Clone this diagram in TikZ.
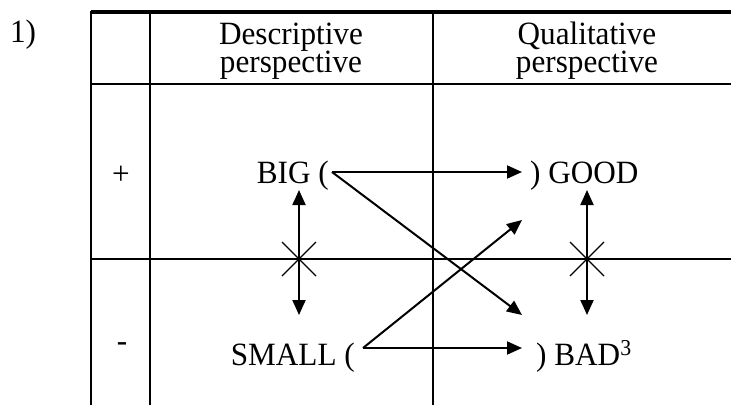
\documentclass[tikz,border=0pt]{standalone}
\usepackage{fontspec}
\setmainfont[FakeStretch=0.96]{Liberation Serif}
\usetikzlibrary{arrows.meta}
\begin{document}
\begin{tikzpicture}[x=1pt,y=-1pt,
  grid/.style={line width=2pt},
  topline/.style={line width=3.5pt},
  lbl/.style={inner sep=0pt,font=\fontsize{32.5}{28}\selectfont},
  hdr/.style={inner sep=0pt,anchor=base,font=\fontsize{32.5}{28}\selectfont},
  arr/.style={line width=2pt,-{Triangle[length=15pt,width=13pt]}},
  darr/.style={line width=2pt,{Triangle[length=15pt,width=13pt]}-{Triangle[length=15pt,width=13pt]}},
  crossln/.style={line width=1.3pt}]
\useasboundingbox (0,0) rectangle (731,405);
% table
\draw[topline] (91,12) -- (731,12);
\draw[grid] (91,84) -- (731,84);
\draw[grid] (91,259) -- (731,259);
\draw[grid] (91,10.5) -- (91,405);
\draw[grid] (150,12) -- (150,405);
\draw[grid] (433,12) -- (433,405);
% labels
\node[lbl,anchor=base] (num) at (23,42) {1)};
\node[hdr] (desc) at (291,44) {Descriptive};
\node[hdr] (descp) at (291,72) {perspective};
\node[hdr] (qual) at (587,44) {Qualitative};
\node[hdr] (qualp) at (587,72) {perspective};
\node[lbl] (plus) at (121,175) {+};
\node[lbl] (minus) at (122,347) {-};
\node[lbl,anchor=base east] (big) at (329,183) {BIG (};
\node[lbl,anchor=base west] (good) at (530,183) {) GOOD};
\node[lbl,anchor=base east] (small) at (355,365) {SMALL (};
\node[lbl,anchor=base west] (bad) at (536,365) {) BAD\textsuperscript{3}};
% arrow end points
\coordinate (bigS) at (332,172);
\coordinate (goodE) at (522,172);
\coordinate (smallS) at (363,348);
\coordinate (badE) at (522,348);
\coordinate (badD) at (522,315);
\coordinate (goodD) at (522,220);
\coordinate (lTop) at (299,190);
\coordinate (lBot) at (299,315);
\coordinate (rTop) at (587,190);
\coordinate (rBot) at (587,315);
\draw[arr] (bigS) -- (goodE);
\draw[arr] (bigS) -- (badD);
\draw[arr] (smallS) -- (badE);
\draw[arr] (smallS) -- (goodD);
\draw[darr] (lTop) -- (lBot);
\draw[darr] (rTop) -- (rBot);
% crosses
\coordinate (lx) at (299,259);
\coordinate (rx) at (587,259);
\draw[crossln] ([shift={(-17,-17)}]lx) -- ([shift={(17,17)}]lx);
\draw[crossln] ([shift={(-17,17)}]lx) -- ([shift={(17,-17)}]lx);
\draw[crossln] ([shift={(-17,-17)}]rx) -- ([shift={(17,17)}]rx);
\draw[crossln] ([shift={(-17,17)}]rx) -- ([shift={(17,-17)}]rx);
\end{tikzpicture}
\end{document}
